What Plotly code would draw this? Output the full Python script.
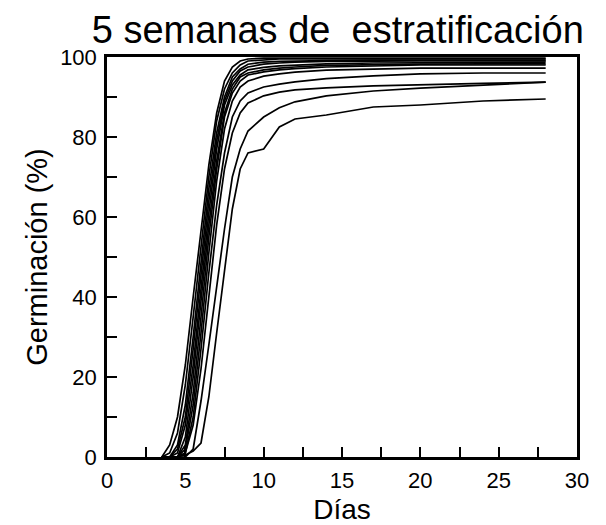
import plotly.graph_objects as go

days = [3.5, 4, 4.5, 5, 5.5, 6, 6.5, 7, 7.5, 8, 8.5, 9, 10, 11, 12, 14, 17, 20, 24, 28]

c1 = [0, 3, 10, 23, 40, 57, 73, 86, 94, 97.5, 99, 99.5, 99.7, 99.7, 99.7, 99.7, 99.7, 99.7, 99.7, 99.7]
c2 = [0, 1, 6, 18, 35, 53, 70, 84, 92, 96, 98, 99, 99.3, 99.5, 99.5, 99.5, 99.5, 99.5, 99.5, 99.5]
c3 = [0, 0, 3, 13, 30, 49, 67, 81, 90, 95, 97, 98.2, 98.7, 98.9, 99, 99.1, 99.2, 99.2, 99.2, 99.2]
c4 = [0, 0, 2, 10, 27, 46, 64, 79, 89, 94, 96.5, 97.5, 98.2, 98.5, 98.7, 98.9, 99, 99, 99, 99]
c5 = [0, 0, 1, 8, 23, 42, 61, 77, 88, 93, 95.5, 96.8, 97.4, 97.8, 98, 98.3, 98.5, 98.6, 98.7, 98.7]
c6 = [0, 0, 0, 5, 20, 39, 58, 74, 86, 92, 95, 96, 96.8, 97.2, 97.5, 97.9, 98.1, 98.2, 98.3, 98.3]
c7 = [0, 0, 0, 3, 16, 35, 55, 72, 85, 91, 94, 95.5, 96.3, 96.8, 97.1, 97.5, 97.8, 98, 98, 98]
c8 = [0, 0, 0, 2, 13, 31, 51, 69, 82, 89, 92.5, 94, 95.2, 95.8, 96.2, 96.7, 97, 97.2, 97.2, 97.2]
c9 = [0, 0, 0, 1, 10, 27, 46, 63, 76, 85, 89, 91, 92.5, 93.2, 93.8, 94.6, 95.3, 95.8, 96, 96]
c10 = [0, 0, 0, 1, 8, 22, 40, 58, 72, 81, 86, 88.5, 90.3, 91.2, 91.8, 92.3, 92.8, 93.1, 93.4, 93.7]
c11 = [0, 0, 0, 0, 2, 14, 28, 43, 57, 70, 77, 81.5, 85, 87.3, 88.8, 90.3, 91.5, 92.2, 93, 93.7]
c12 = [0, 0, 0, 0.5, 1.5, 3.5, 15, 31, 47, 62, 72, 76, 77, 82.5, 84.5, 85.5, 87.5, 88, 89, 89.5]

series = [c1, c2, c3, c4, c5, c6, c7, c8, c9, c10, c11, c12]

x_ticks = [0, 5, 10, 15, 20, 25, 30]
y_ticks = [0, 20, 40, 60, 80, 100]

FONT = "Liberation Sans, Arial, Helvetica, sans-serif"

fig = go.Figure()
for s in series:
    fig.add_trace(go.Scatter(x=days, y=s, mode="lines",
                             line=dict(color="black", width=1.7),
                             showlegend=False, hoverinfo="skip"))

fig.update_layout(
    width=606, height=525,
    margin=dict(l=99, r=37, t=49, b=76),
    paper_bgcolor="white", plot_bgcolor="white",
    font=dict(family=FONT, color="black"),
    title=dict(text="5 semanas de&nbsp;&nbsp;estratificación",
               x=0.491, xref="paper", xanchor="center",
               y=0.958, yref="container", yanchor="middle",
               font=dict(size=38, family=FONT, color="black")),
)

fig.update_xaxes(
    range=[0, 30], tickvals=x_ticks, ticktext=[str(v) for v in x_ticks],
    ticks="inside", ticklen=10, tickwidth=2, tickcolor="black",
    minor=dict(dtick=2.5, tick0=0, ticks="inside", ticklen=10, tickwidth=2, tickcolor="black"),
    showline=True, linecolor="black", linewidth=2.5, mirror=True,
    showgrid=False, zeroline=False, ticklabelstandoff=2,
    tickfont=dict(size=22, family=FONT, color="black"),
    title=dict(text="Días", font=dict(size=28, family=FONT, color="black"), standoff=8),
)
fig.update_yaxes(
    range=[0, 100], tickvals=y_ticks, ticktext=[str(v) for v in y_ticks],
    ticks="inside", ticklen=10, tickwidth=2, tickcolor="black",
    minor=dict(dtick=10, tick0=0, ticks="inside", ticklen=10, tickwidth=2, tickcolor="black"),
    showline=True, linecolor="black", linewidth=2.5, mirror=True,
    showgrid=False, zeroline=False, ticklabelstandoff=3,
    tickfont=dict(size=22, family=FONT, color="black"),
    title=dict(text="Germinación (%)", font=dict(size=29, family=FONT, color="black"), standoff=4),
)

fig.write_html("out.html")
